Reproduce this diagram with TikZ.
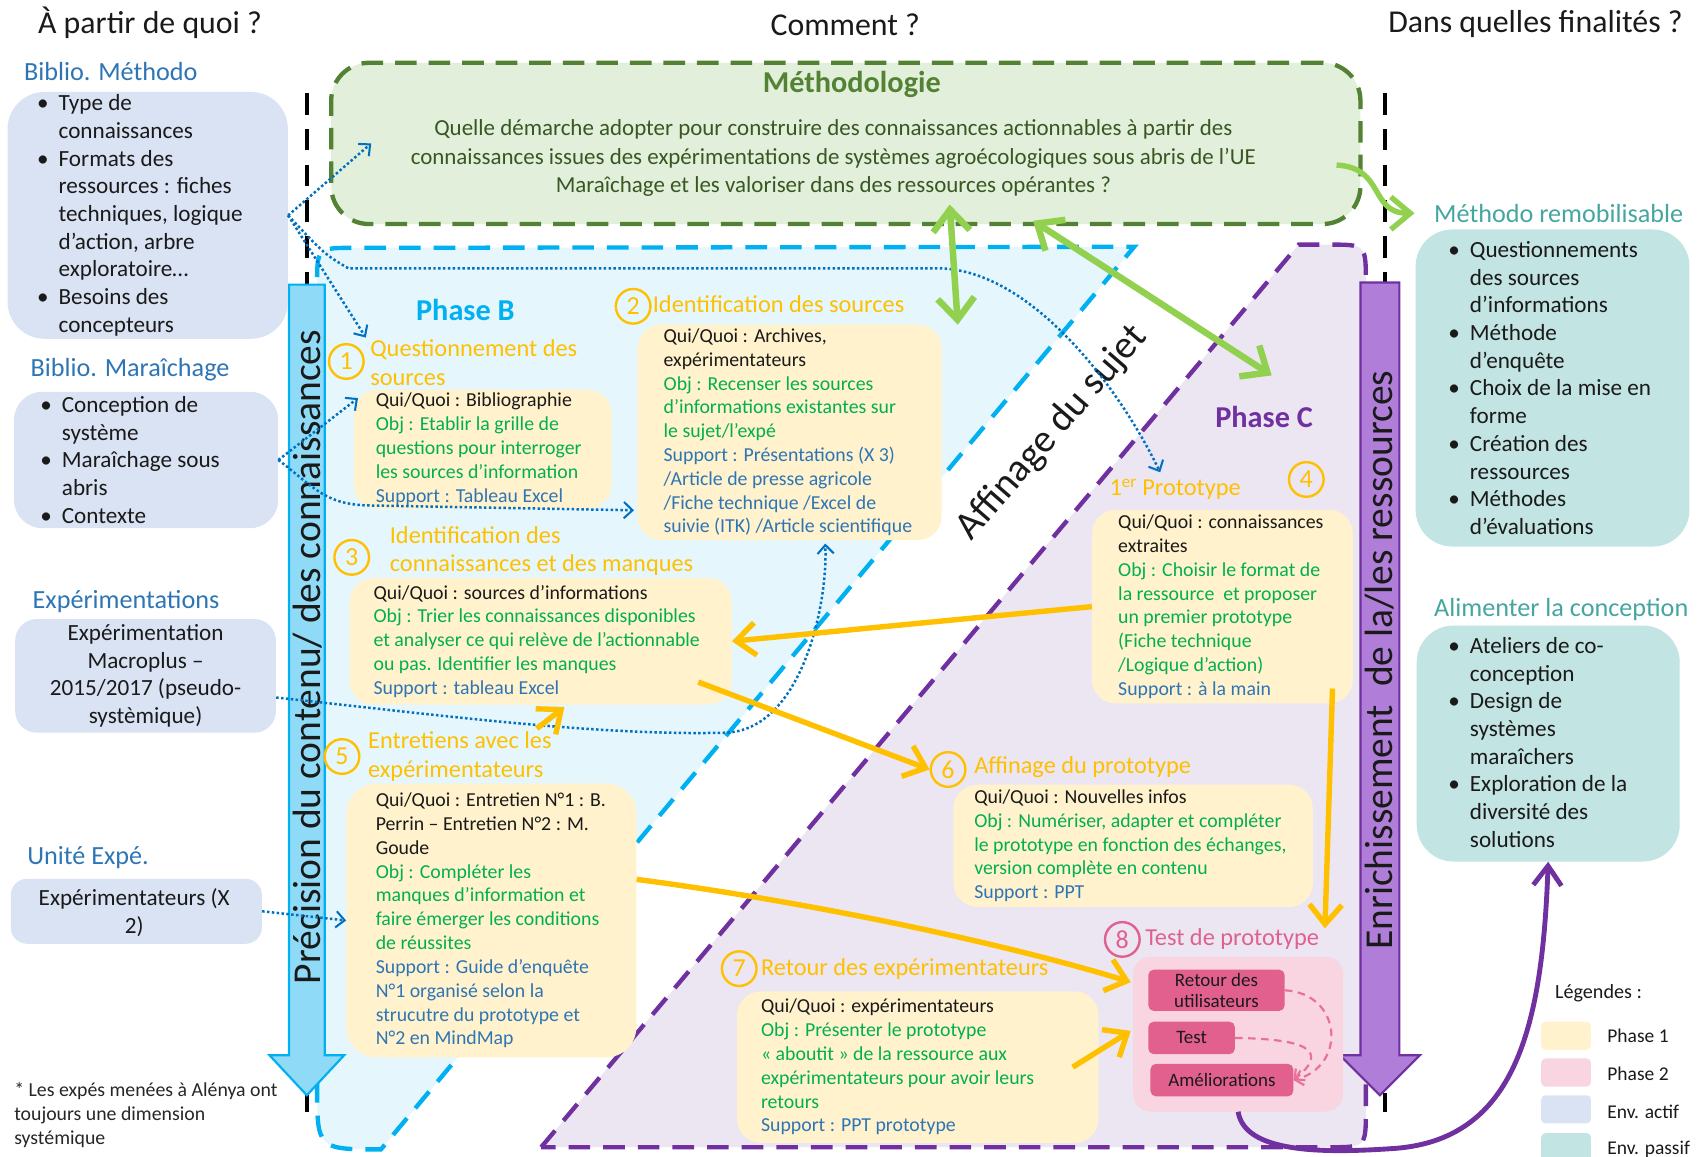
\documentclass[tikz,border=0pt]{standalone}
\usepackage{fontspec}
\setmainfont{Carlito}
\usetikzlibrary{arrows.meta,calc}

\definecolor{cBlk}{HTML}{1A1A1A}
\definecolor{cOr}{HTML}{FFC000}
\definecolor{cGrn}{HTML}{00B050}
\definecolor{cBlu}{HTML}{2E75B6}
\definecolor{cSect}{HTML}{2E75B6}
\definecolor{cTeal}{HTML}{45A6A0}
\definecolor{cP1}{HTML}{FFF2CC}
\definecolor{cP2}{HTML}{F8D5E0}
\definecolor{cEnvA}{HTML}{DAE3F3}
\definecolor{cEnvP}{HTML}{C2E4E2}
\definecolor{cMethF}{HTML}{E2EFDA}
\definecolor{cMethL}{HTML}{548235}
\definecolor{cMethT}{HTML}{385723}
\definecolor{cPhBF}{HTML}{E5F6FD}
\definecolor{cPhBL}{HTML}{00B0F0}
\definecolor{cPhCF}{HTML}{EBE6F2}
\definecolor{cPhCL}{HTML}{7030A0}
\definecolor{cArrB}{HTML}{8FDBF7}
\definecolor{cArrP}{HTML}{B07ED8}
\definecolor{cPkBox}{HTML}{E2608E}
\definecolor{cPkTxt}{HTML}{E0608F}
\definecolor{cPkLine}{HTML}{E8709A}
\definecolor{cGArr}{HTML}{92D050}
\definecolor{cDot}{HTML}{0070C0}
\definecolor{cFoot}{HTML}{262626}

\newcommand{\fsz}[2]{\fontsize{#1}{#2}\selectfont}
\newcommand{\bul}{\llap{\makebox[20pt][l]{•}}}
\newcommand{\txG}[1]{\textcolor{cGrn}{#1}}
\newcommand{\txB}[1]{\textcolor{cBlu}{#1}}

\tikzset{
  envA/.style={rectangle, fill=cEnvA, draw=none, inner sep=0},
  envP/.style={rectangle, rounded corners=34pt, fill=cEnvP, draw=none, inner sep=0},
  p1box/.style={rectangle, rounded corners=22pt, fill=cP1, draw=none, inner sep=0},
  p2box/.style={rectangle, rounded corners=16pt, fill=cP2, draw=none, inner sep=0},
  pkbox/.style={rectangle, rounded corners=5pt, fill=cPkBox, draw=none, inner sep=0, font=\fsz{17.5}{19}, align=center, text=cBlk},
  envtxt/.style={font=\fsz{21.4}{25.6}, align=left, inner sep=0, anchor=west, text=cBlk},
  bodytxt/.style={font=\fsz{18.3}{22}, align=left, inner sep=0, anchor=west, text=cBlk},
  ttl/.style={font=\fsz{22.5}{26}, align=left, inner sep=0, anchor=west, text=cOr},
  num/.style={circle, draw=cOr, line width=2.2pt, minimum size=32pt, inner sep=0, text=cOr, font=\fsz{24}{24}},
  sect/.style={font=\fsz{24.2}{28}, text=cSect, inner sep=0, anchor=west},
  sectP/.style={font=\fsz{24.2}{28}, text=cTeal, inner sep=0, anchor=west},
  head/.style={font=\fsz{29.4}{32}, inner sep=0, text=cBlk},
  big/.style={font=\fsz{36.5}{40}, inner sep=0, text=cBlk},
  legsw/.style={rectangle, rounded corners=4pt, minimum width=46pt, minimum height=26pt, inner sep=0, draw=none},
  legtxt/.style={font=\fsz{18}{20}, inner sep=0, anchor=west, text=cBlk},
  dotarr/.style={draw=cDot, line width=2.3pt, dash pattern=on 2.3pt off 2.2pt, -{Straight Barb[length=8pt,width=15pt,line width=1.9pt]}},
  orarr/.style={draw=cOr, line width=5pt, -{Straight Barb[length=18pt,width=30pt]}},
  grarr/.style={draw=cGArr, line width=6pt, arrows={Straight Barb[length=20pt,width=34pt]-Straight Barb[length=20pt,width=34pt]}},
  grcurve/.style={draw=cGArr, line width=5pt, -{Straight Barb[length=18pt,width=30pt]}},
  puarr/.style={draw=cPhCL, line width=4.5pt, -{Straight Barb[length=18pt,width=26pt]}},
  pkarr/.style={draw=cPkLine, line width=2pt, dash pattern=on 7pt off 5pt, -{Straight Barb[length=7pt,width=14pt]}},
  blkdash/.style={draw=black, line width=4pt, dash pattern=on 20pt off 13pt},
  regB/.style={fill=cPhBF, draw=cPhBL, line width=4pt, dash pattern=on 20pt off 12pt},
  regC/.style={fill=cPhCF, draw=cPhCL, line width=4pt, dash pattern=on 20pt off 12pt},
}

\begin{document}
\begin{tikzpicture}[x=1pt,y=-1pt]
\useasboundingbox (0,0) rectangle (1568,1069);

% ---------- regions ----------
\path[regB] (293,640) -- (293,263) .. controls (293,229) .. (327,229) -- (1048,228) -- (352,1062) .. controls (293,1062) .. (293,1003) -- cycle;
\path[regC] (500,1060) -- (1200,226) -- (1228,226) .. controls (1262,226) .. (1262,260) -- (1262,1026) .. controls (1262,1060) .. (1228,1060) -- cycle;

% ---------- black dashed separators ----------
\draw[blkdash] (283.5,86) -- (283.5,1027);
\draw[blkdash] (1280,86) -- (1280,1027);

% ---------- methodology ----------
\node[rectangle, rounded corners=35pt, fill=cMethF, draw=cMethL, line width=4pt, dash pattern=on 20pt off 11pt, minimum width=951pt, minimum height=149pt, inner sep=0] (meth) at (781.5,132.5) {};
\node[font=\bfseries\fsz{28}{30}, text=cMethL, inner sep=0] (methT) at (787,78) {Méthodologie};
\node[font=\fsz{21.2}{26}, text=cMethT, align=center, inner sep=0] (methQ) at (770,146) {Quelle démarche adopter pour construire des connaissances actionnables à partir des\\connaissances issues des expérimentations de systèmes agroécologiques sous abris de l’UE\\Maraîchage et les valoriser dans des ressources opérantes ?};

% ---------- block arrows ----------
\path[fill=cArrB, draw=cPhBL, line width=2pt] (267,263) -- (300,263) -- (300,975) -- (318,975) -- (283.5,1012) -- (249,975) -- (267,975) -- cycle;
\path[fill=cArrP, draw=cPhCL, line width=2pt] (1257,261) -- (1293,261) -- (1293,975) -- (1312,975) -- (1275,1012) -- (1238,975) -- (1257,975) -- cycle;

% ---------- headers ----------
\node[head, anchor=west] (hA) at (35,21) {À partir de quoi ?};
\node[head] (hB) at (781,23) {Comment ?};
\node[head, anchor=east] (hC) at (1555,22) {Dans quelles finalités ?};

% ---------- left (env. actif) ----------
\node[sect] (sA) at (22,66) {Biblio. Méthodo};
\node[envA, rounded corners=34pt, minimum width=259pt, minimum height=228pt] (env1) at (136.5,199) {};
\node[envtxt] (e1t) at (54,199) {\bul Type de\\connaissances\\\bul Formats des\\ressources : fiches\\techniques, logique\\d’action, arbre\\exploratoire…\\\bul Besoins des\\concepteurs};

\node[sect] (sB) at (28,342) {Biblio. Maraîchage};
\node[envA, rounded corners=26pt, minimum width=244pt, minimum height=126pt] (env2) at (135,425) {};
\node[envtxt] (e2t) at (57,425) {\bul Conception de\\système\\\bul Maraîchage sous\\abris\\\bul Contexte};

\node[sect] (sC) at (30,556) {Expérimentations};
\node[envA, rounded corners=20pt, minimum width=241pt, minimum height=105pt] (env3) at (134.5,624.5) {};
\node[envtxt, anchor=center, align=center] (e3t) at (env3.center) {Expérimentation\\Macroplus –\\2015/2017 (pseudo-\\systèmique)};

\node[sect] (sD) at (25,792) {Unité Expé.};
\node[envA, rounded corners=15pt, minimum width=232pt, minimum height=60pt] (env4) at (126,842) {};
\node[envtxt, anchor=center, align=center] (e4t) at (124,843) {Expérimentateurs (X\\2)};

% ---------- right (env. passif) ----------
\node[sectP] (sE) at (1325,197) {Méthodo remobilisable};
\node[envP, minimum width=253pt, minimum height=293pt] (pas1) at (1434.5,358.5) {};
\node[envtxt] (p1t) at (1358,358.5) {\bul Questionnements\\des sources\\d’informations\\\bul Méthode\\d’enquête\\\bul Choix de la mise en\\forme\\\bul Création des\\ressources\\\bul Méthodes\\d’évaluations};

\node[sectP] (sF) at (1325,563) {Alimenter la conception};
\node[envP, minimum width=243pt, minimum height=218pt] (pas2) at (1430.5,687) {};
\node[envtxt] (p2t) at (1358,686) {\bul Ateliers de co-\\conception\\\bul Design de\\systèmes\\maraîchers\\\bul Exploration de la\\diversité des\\solutions};

% ---------- phase labels ----------
\node[font=\bfseries\fsz{28}{30}, text=cPhBL, inner sep=0] (phB) at (430,286) {Phase B};
\node[font=\bfseries\fsz{28}{30}, text=cPhCL, inner sep=0] (phC) at (1168,385) {Phase C};

% ---------- phase 1 boxes ----------
\node[p1box, minimum width=238pt, minimum height=110pt] (b1) at (446,415) {};
\node[bodytxt] (b1t) at (347,415) {Qui/Quoi : Bibliographie\\\txG{Obj : Etablir la grille de}\\\txG{questions pour interroger}\\\txG{les sources d’information}\\\txB{Support : Tableau Excel}};

\node[p1box, minimum width=281pt, minimum height=199pt] (b2) at (729.5,399.5) {};
\node[bodytxt] (b2t) at (613,399.5) {Qui/Quoi : Archives,\\expérimentateurs\\\txG{Obj : Recenser les sources}\\\txG{d’informations existantes sur}\\\txG{le sujet/l’expé}\\\txB{Support : Présentations (X 3)}\\\txB{/Article de presse agricole}\\\txB{/Fiche technique /Excel de}\\\txB{suivie (ITK) /Article scientifique}};

\node[p1box, minimum width=353pt, minimum height=117pt] (b3) at (499.5,592.5) {};
\node[bodytxt] (b3t) at (345,592.5) {Qui/Quoi : sources d’informations\\\txG{Obj : Trier les connaissances disponibles}\\\txG{et analyser ce qui relève de l’actionnable}\\\txG{ou pas. Identifier les manques}\\\txB{Support : tableau Excel}};

\node[p1box, minimum width=241pt, minimum height=179pt] (b4) at (1129.5,560.5) {};
\node[bodytxt] (b4t) at (1033,560.5) {Qui/Quoi : connaissances\\extraites\\\txG{Obj : Choisir le format de}\\\txG{la ressource \ et proposer}\\\txG{un premier prototype}\\\txG{(Fiche technique}\\\txG{/Logique d’action)}\\\txB{Support : à la main}};

\node[p1box, rounded corners=28pt, minimum width=268pt, minimum height=253pt] (b5) at (454,850.5) {};
\node[bodytxt] (b5t) at (347,850.5) {Qui/Quoi : Entretien N°1 : B.\\Perrin – Entretien N°2 : M.\\Goude\\\txG{Obj : Compléter les}\\\txG{manques d’information et}\\\txG{faire émerger les conditions}\\\txG{de réussites}\\\txB{Support : Guide d’enquête}\\\txB{N°1 organisé selon la}\\\txB{strucutre du prototype et}\\\txB{N°2 en MindMap}};

\node[p1box, minimum width=332pt, minimum height=113pt] (b6) at (1047,781.5) {};
\node[bodytxt] (b6t) at (900,781.5) {Qui/Quoi : Nouvelles infos\\\txG{Obj : Numériser, adapter et compléter}\\\txG{le prototype en fonction des échanges,}\\\txG{version complète en contenu}\\\txB{Support : PPT}};

\node[p1box, minimum width=334pt, minimum height=140pt] (b7) at (848,986) {};
\node[bodytxt] (b7t) at (703,986) {Qui/Quoi : expérimentateurs\\\txG{Obj : Présenter le prototype}\\\txG{« aboutit » de la ressource aux}\\\txG{expérimentateurs pour avoir leurs}\\\txG{retours}\\\txB{Support : PPT prototype}};

% ---------- phase 2 box ----------
\node[p2box, minimum width=194pt, minimum height=143pt] (b8) at (1144,955.5) {};
\node[pkbox, minimum width=126pt, minimum height=38pt] (r1) at (1124,915) {Retour des\\utilisateurs};
\node[pkbox, minimum width=80pt, minimum height=30pt] (r2) at (1101,959) {Test};
\node[pkbox, minimum width=132pt, minimum height=30pt] (r3) at (1129,998) {Améliorations};

% ---------- numbers and titles ----------
\node[num] (c1) at (320,334) {1};
\node[ttl] (t1) at (342,335) {Questionnement des\\sources};
\node[num] (c2) at (585,283) {2};
\node[ttl] (t2) at (603,281) {Identification des sources};
\node[num] (c3) at (325,515) {3};
\node[ttl] (t3) at (360,509) {Identification des\\connaissances et des manques};
\node[num] (c4) at (1207,443) {4};
\node[ttl] (t4) at (1025,452) {1\textsuperscript{er} Prototype};
\node[num] (c5) at (316,699) {5};
\node[ttl] (t5) at (340,699) {Entretiens avec les\\expérimentateurs};
\node[num] (c6) at (876,711) {6};
\node[ttl] (t6) at (900,709) {Affinage du prototype};
\node[num] (c7) at (683,895) {7};
\node[ttl] (t7) at (703,895) {Retour des expérimentateurs};
\node[num, draw=cPkTxt, text=cPkTxt] (c8) at (1037,868) {8};
\node[ttl, text=cPkTxt] (t8) at (1058,868) {Test de prototype};

% ---------- rotated labels ----------
\node[big, rotate=90] (lblB) at (284,607) {Précision du contenu/ des connaissances};
\node[big, rotate=90] (lblC) at (1275,610) {Enrichissement\ \ de la/les ressources};
\node[big, rotate=49] (aff) at (972,400) {Affinage du sujet};

% ---------- legend ----------
\node[font=\fsz{18.6}{20}, text=cBlk, inner sep=0] (legT) at (1477,918) {Légendes :};
\node[legsw, fill=cP1] (lg1) at (1447,957) {};
\node[legtxt] (lg1t) at (1485,957) {Phase 1};
\node[legsw, fill=cP2] (lg2) at (1447,991) {};
\node[legtxt] (lg2t) at (1485,992) {Phase 2};
\node[legsw, fill=cEnvA] (lg3) at (1447,1025) {};
\node[legtxt] (lg3t) at (1485,1027) {Env. actif};
\node[legsw, fill=cEnvP] (lg4) at (1447,1060) {};
\node[legtxt] (lg4t) at (1485,1062) {Env. passif};

% ---------- footnote ----------
\node[font=\fsz{18.3}{22}, text=cFoot, align=left, inner sep=0, anchor=west] (foot) at (13,1030) {* Les expés menées à Alénya ont\\toujours une dimension\\systémique};

% ---------- blue dotted connectors ----------
\draw[dotarr] (env1.east) -- ($(meth.west)+(39,0)$);
\draw[dotarr] (env1.east) -- ($(t1.north west)+(-4,-2)$);
\draw[dotarr] (env1.east) .. controls (300,235) .. (322,248) -- (870,248) .. controls (950,251) and (1030,350) .. ($(t4.north west)+(47,-6)$);
\draw[dotarr] (env2.east) -- ($(b1.north west)+(4,8)$);
\draw[dotarr] (env2.east) .. controls (290,450) and (300,466) .. (340,467) -- ($(b2.west)+(-3,72)$);
\draw[dotarr] ($(env3.east)+(0,20)$) .. controls (400,660) and (550,680) .. (670,677) .. controls (740,675) and (765,560) .. ($(b2.south)+(33,3)$);
\draw[dotarr] (env4.east) -- (b5.west);

% ---------- orange connectors ----------
\draw[orarr] (b4.west) -- (b3.east);
\draw[orarr] ($(b3.south east)+(-31,-21)$) -- (c6.west);
\draw[orarr] ($(b4.south east)+(-19,-14)$) -- ($(b8.north east)+(-17,-26)$);
\draw[orarr] ($(b5.east)+(0,-38)$) .. controls (760,835) and (940,875) .. ($(b8.west)+(-2,-48)$);
\draw[orarr] ($(b7.east)+(-24,0)$) -- ($(b8.west)+(-2,-3)$);
\draw[orarr] ($(t5.north west)+(156,-3)$) -- ($(b3.south)+(22,2)$);

% ---------- pink dashed ----------
\draw[pkarr] (r1.east) .. controls (1240,918) and (1245,985) .. (r3.east);
\draw[pkarr] (r2.east) .. controls (1200,960) and (1232,968) .. (r3.east);

% ---------- purple connector ----------
\draw[puarr] (b8.south) .. controls (1150,1065) and (1220,1066) .. (1290,1061) .. controls (1400,1052) and (1425,950) .. (pas2.south);

% ---------- green connectors ----------
\coordinate (gB) at (885,300);
\draw[grarr] ($(meth.south)+(96,-20)$) -- (gB);
\draw[grarr] ($(meth.south)+(173,-5)$) -- ($(phC.north)+(7,-28)$);
\draw[grcurve] ($(meth.east)+(-24,20)$) .. controls (1280,155) and (1265,197) .. ($(sE.west)+(-18,0)$);

\end{tikzpicture}
\end{document}
